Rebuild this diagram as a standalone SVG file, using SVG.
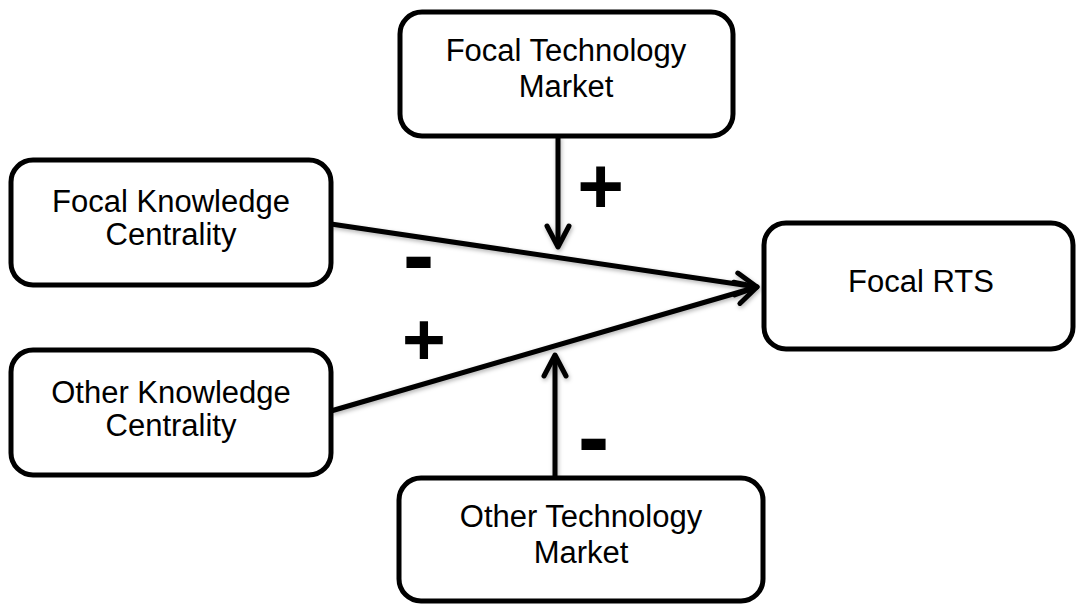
<svg xmlns="http://www.w3.org/2000/svg" width="1076" height="605" viewBox="0 0 1076 605">
  <style>
    .box { fill: #ffffff; stroke: #000000; stroke-width: 5; }
    .label { font-family: "Liberation Sans", Arial, sans-serif; font-size: 31px; fill: #000000; text-anchor: middle; }
    .sign { font-family: "Liberation Sans", Arial, sans-serif; font-weight: bold; fill: #000000; text-anchor: middle; }
    .edge { fill: none; stroke: #000000; stroke-width: 5; }
  </style>
  <defs>
    <marker id="chevron" markerUnits="userSpaceOnUse" markerWidth="40" markerHeight="40" viewBox="-30 -20 40 40" refX="0" refY="0" orient="auto">
      <path d="M-21,-11 L0,0 L-21,11" fill="none" stroke="#000000" stroke-width="5" stroke-linecap="round" stroke-linejoin="round"/>
    </marker>
    <filter id="soft-shadow" x="-10%" y="-10%" width="120%" height="120%">
      <feDropShadow dx="1" dy="2" stdDeviation="2" flood-color="#000000" flood-opacity="0.3"/>
    </filter>
  </defs>

  <!-- connectors -->
  <g id="connectors" filter="url(#soft-shadow)">
    <line class="edge" x1="331" y1="224" x2="757" y2="287" marker-end="url(#chevron)"/>
    <line class="edge" x1="331" y1="411" x2="757" y2="287" marker-end="url(#chevron)"/>
    <line class="edge" x1="558" y1="136" x2="558" y2="247" marker-end="url(#chevron)"/>
    <line class="edge" x1="555" y1="478" x2="555" y2="355" marker-end="url(#chevron)"/>
  </g>

  <!-- effect signs -->
  <g id="signs">
    <text class="sign" x="600.5" y="213" font-size="80">+</text>
    <text class="sign" x="418.5" y="287" font-size="95">-</text>
    <text class="sign" x="424" y="365" font-size="75">+</text>
    <text class="sign" x="593.5" y="469" font-size="95">-</text>
  </g>

  <g id="focal-technology-market">
    <rect class="box" x="400" y="12" width="333" height="124" rx="22" ry="22"/>
    <text class="label" x="566" y="61">Focal Technology</text>
    <text class="label" x="566" y="97">Market</text>
  </g>

  <g id="focal-knowledge-centrality">
    <rect class="box" x="11" y="160" width="320" height="125" rx="22" ry="22"/>
    <text class="label" x="171" y="212">Focal Knowledge</text>
    <text class="label" x="171" y="245">Centrality</text>
  </g>

  <g id="other-knowledge-centrality">
    <rect class="box" x="11" y="350" width="320" height="125" rx="22" ry="22"/>
    <text class="label" x="171" y="403">Other Knowledge</text>
    <text class="label" x="171" y="436">Centrality</text>
  </g>

  <g id="focal-rts">
    <rect class="box" x="764" y="223" width="309" height="126" rx="22" ry="22"/>
    <text class="label" x="921" y="292">Focal RTS</text>
  </g>

  <g id="other-technology-market">
    <rect class="box" x="399" y="478" width="364" height="123" rx="22" ry="22"/>
    <text class="label" x="581" y="527">Other Technology</text>
    <text class="label" x="581" y="563">Market</text>
  </g>
</svg>
